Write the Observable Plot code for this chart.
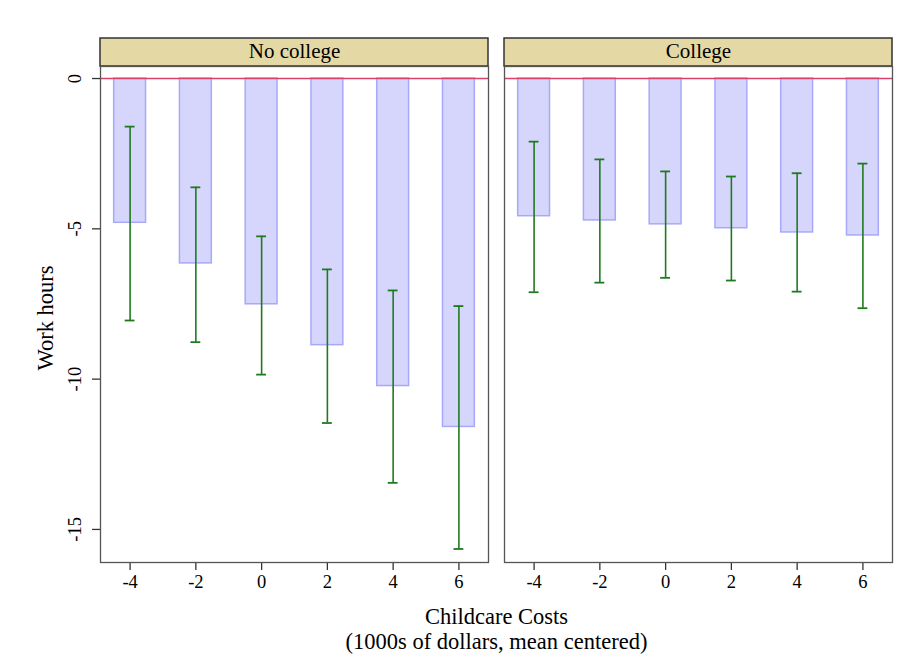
<!DOCTYPE html>
<html>
<head>
<meta charset="utf-8">
<script src="https://cdn.jsdelivr.net/npm/d3@7"></script>
<script src="https://cdn.jsdelivr.net/npm/@observablehq/plot@0.6"></script>
<style>
  body { margin: 0; background: white; }
  svg { display: block; }
</style>
</head>
<body>
<div id="chart"></div>
<script>
const xs = [-4, -2, 0, 2, 4, 6];
const groups = ["No college", "College"];
const noCollegeEst = [-4.80, -6.15, -7.51, -8.87, -10.23, -11.59];
const noCollegeLo  = [-8.05, -8.77, -9.85, -11.46, -13.45, -15.65];
const noCollegeHi  = [-1.60, -3.62, -5.25, -6.35, -7.05, -7.57];
const collegeEst   = [-4.58, -4.72, -4.85, -4.98, -5.12, -5.22];
const collegeLo    = [-7.11, -6.79, -6.63, -6.72, -7.09, -7.64];
const collegeHi    = [-2.10, -2.69, -3.09, -3.26, -3.15, -2.83];
const yTicks = [0, -5, -10, -15];

const rows = [];
xs.forEach((x, i) => {
  rows.push({group: groups[0], x, est: noCollegeEst[i], lo: noCollegeLo[i], hi: noCollegeHi[i]});
  rows.push({group: groups[1], x, est: collegeEst[i], lo: collegeLo[i], hi: collegeHi[i]});
});
const strips = groups.map(g => ({group: g}));

const W = 913, H = 672, mT = 66, mB = 110, mL = 100, mR = 20;
const plotH = H - mT - mB;
const green = "#1f7a1f";
const serif = "Liberation Serif, Times New Roman, serif";

const chart = Plot.plot({
  width: W, height: H,
  marginLeft: mL, marginRight: mR, marginTop: mT, marginBottom: mB,
  style: {fontFamily: serif, fontSize: "18.5px", color: "#000", background: "white"},
  fx: {domain: groups, paddingInner: 0.0395, paddingOuter: 0, axis: null, label: null},
  x: {domain: [-4.9, 6.9], axis: null},
  y: {domain: [-16.1, 0.4], axis: null},
  marks: [
    Plot.rect(strips, {fx: "group", fill: "#e4d8a4", stroke: "#333", strokeWidth: 1.5, insetTop: -28, insetBottom: plotH}),
    Plot.text(strips, {fx: "group", text: "group", frameAnchor: "top", lineAnchor: "middle", dy: -15, fontSize: 21}),
    Plot.rectY(rows, {fx: "group", x1: d => d.x - 0.5, x2: d => d.x + 0.5, y1: 0, y2: "est",
      fill: "#d6d6fc", stroke: "#a8a8fa", strokeWidth: 1.5, insetLeft: 0.5, insetRight: 0.5}),
    Plot.ruleY([0], {stroke: "#d9406b", strokeWidth: 1.6}),
    Plot.ruleX(rows, {fx: "group", x: "x", y1: "lo", y2: "hi", stroke: green, strokeWidth: 1.6}),
    Plot.ruleY(rows, {fx: "group", y: "lo", x1: d => d.x - 0.15, x2: d => d.x + 0.15, stroke: green, strokeWidth: 1.8}),
    Plot.ruleY(rows, {fx: "group", y: "hi", x1: d => d.x - 0.15, x2: d => d.x + 0.15, stroke: green, strokeWidth: 1.8}),
    Plot.axisX({ticks: xs, tickFormat: d => String(d), tickSize: 8, tickPadding: 4, label: null, facetAnchor: "bottom", stroke: "#333", strokeWidth: 1.3}),
    Plot.axisY({ticks: yTicks, tickFormat: d => String(d), tickRotate: -90, tickSize: 8, tickPadding: 12, label: null, facetAnchor: "left", stroke: "#333", strokeWidth: 1.3}),
    Plot.frame({stroke: "#555", strokeWidth: 1.3})
  ]
});

document.getElementById("chart").appendChild(chart);

const svg = d3.select(chart);
svg.append("text")
  .attr("x", (mL + W - mR) / 2).attr("y", 624)
  .attr("text-anchor", "middle").attr("font-family", serif).attr("font-size", 22.5)
  .text("Childcare Costs");
svg.append("text")
  .attr("x", (mL + W - mR) / 2).attr("y", 649)
  .attr("text-anchor", "middle").attr("font-family", serif).attr("font-size", 22.5)
  .text("(1000s of dollars, mean centered)");
svg.append("text")
  .attr("transform", `translate(53,318) rotate(-90)`)
  .attr("text-anchor", "middle").attr("font-family", serif).attr("font-size", 22.5)
  .text("Work hours");
</script>
</body>
</html>
